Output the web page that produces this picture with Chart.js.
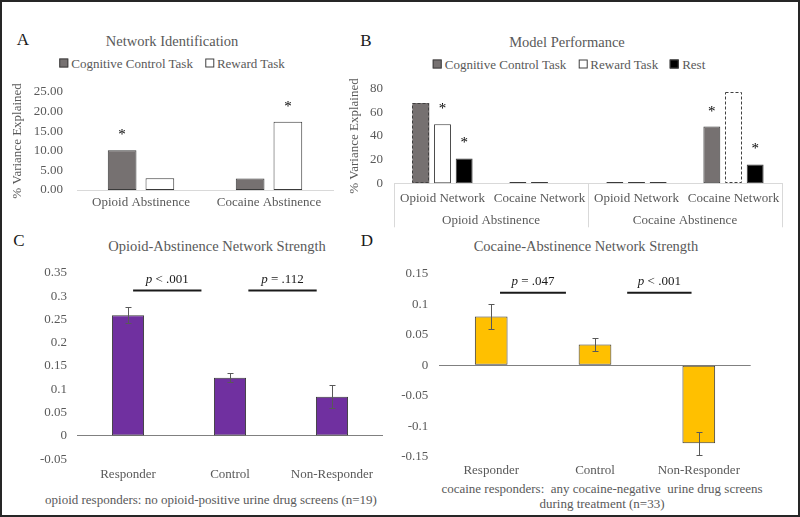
<!DOCTYPE html>
<html>
<head>
<meta charset="utf-8">
<script src="https://cdn.jsdelivr.net/npm/chart.js@4.4.1/dist/chart.umd.min.js"></script>
<style>
  body { margin: 0; background: #fff; }
  #page { position: relative; width: 800px; height: 517px; overflow: hidden;
          font-family: 'Liberation Serif', 'Times New Roman', serif; color: #595959; }
  #frame { position: absolute; left: 0; top: 0; width: 800px; height: 517px; box-sizing: border-box;
           border: 2px solid #262626; pointer-events: none; }
  canvas { position: absolute; }
  .txt { position: absolute; transform: translate(-50%, -50%); white-space: nowrap; line-height: 1; }
  .letter { font-size: 17px; color: #1a1a1a; }
  .title { font-size: 14.5px; color: #595959; }
  .legend { position: absolute; transform: translate(-50%, -50%); display: flex; gap: 12px;
            font-size: 13px; white-space: nowrap; line-height: 1; color: #595959; }
  .legend .box { display: inline-block; width: 7px; height: 7px; border: 1px solid #404040;
                 margin-right: 3px; }
  .note { font-size: 13px; text-align: center; line-height: 15px; white-space: pre; }
</style>
</head>
<body>
<div id="page">
  <div class="txt letter" style="left:23px; top:39px;">A</div>
  <div class="txt letter" style="left:366px; top:40px;">B</div>
  <div class="txt letter" style="left:19px; top:240px;">C</div>
  <div class="txt letter" style="left:367px; top:240px;">D</div>

  <div class="txt title" style="left:172px; top:41px;">Network Identification</div>
  <div class="txt title" style="left:567px; top:42px;">Model Performance</div>
  <div class="txt title" style="left:217px; top:246px;">Opioid-Abstinence Network Strength</div>
  <div class="txt title" style="left:586px; top:246px;">Cocaine-Abstinence Network Strength</div>

  <div class="legend" id="legendA" style="left:172px; top:63px;"></div>
  <div class="legend" id="legendB" style="left:569px; top:64px;"></div>

  <div class="txt note" style="left:211px; top:499px;">opioid responders: no opioid-positive urine drug screens (n=19)</div>
  <div class="txt note" style="left:602px; top:496px;">cocaine responders:  any cocaine-negative  urine drug screens
during treatment (n=33)</div>

  <div id="frame"></div>
</div>

<script>
// ---- data ----
const catA = ['Opioid Abstinence', 'Cocaine Abstinence'];
const seriesA = ['Cognitive Control Task', 'Reward Task'];
const cognitiveA = [10.15, 2.9];
const rewardA = [3.0, 17.35];
const ticksA = [0, 5, 10, 15, 20, 25];
const starsA = [[0, 0], [1, 1]];          // [dataset, index] of significant bars

const subCatB = ['Opioid Network', 'Cocaine Network', 'Opioid Network', 'Cocaine Network'];
const groupCatB = ['Opioid Abstinence', 'Cocaine Abstinence'];
const seriesB = ['Cognitive Control Task', 'Reward Task', 'Rest'];
const cognitiveB = [68, 1, 1, 48];
const rewardB = [50, 1, 1, 77];
const restB = [21, null, 1, 16];
const ticksB = [0, 20, 40, 60, 80];
const starsB = [[1, 0], [2, 0], [0, 3], [2, 3]];
const dashedB = [[0, 0], [1, 3]];         // bars drawn with a dashed outline

const groupsCD = ['Responder', 'Control', 'Non-Responder'];
const strengthC = [0.259, 0.125, 0.084];
const errC = [0.017, 0.01, 0.025];
const ticksC = [-0.05, 0, 0.05, 0.1, 0.15, 0.2, 0.25, 0.3, 0.35];
const pValuesC = ['< .001', '= .112'];

const strengthD = [0.080, 0.034, -0.128];
const errD = [0.021, 0.011, 0.019];
const ticksD = [-0.15, -0.1, -0.05, 0, 0.05, 0.1, 0.15];
const pValuesD = ['= .047', '< .001'];

const FONT = "'Liberation Serif', 'Times New Roman', serif";
Chart.defaults.font.family = FONT;
Chart.defaults.font.size = 13;
Chart.defaults.color = '#595959';

const GRAY = '#767171';
const EDGE = '#3a3a3a';

// stars, error bars, dashed outlines, p-value brackets, category separators
const extras = {
  id: 'extras',
  afterDatasetsDraw(chart, args, opts) {
    const ctx = chart.ctx;
    const x = chart.scales.x, y = chart.scales.y;
    ctx.save();

    (opts.dashed || []).forEach(([d, i]) => {
      const p = chart.getDatasetMeta(d).data[i].getProps(['x', 'y', 'base', 'width'], true);
      ctx.setLineDash([3, 2]);
      ctx.strokeStyle = '#404040';
      ctx.lineWidth = 1;
      ctx.strokeRect(Math.round(p.x - p.width / 2) + 0.5, Math.round(p.y) + 0.5,
                     Math.round(p.width) - 1, Math.round(p.base - p.y) - 1);
    });
    ctx.setLineDash([]);

    if (opts.errors) {
      const vals = chart.data.datasets[0].data;
      const meta = chart.getDatasetMeta(0);
      ctx.strokeStyle = '#595959';
      ctx.lineWidth = 1;
      opts.errors.forEach((e, i) => {
        const cx = Math.round(meta.data[i].x) + 0.5;
        const top = Math.round(y.getPixelForValue(vals[i] + e)) + 0.5;
        const bot = Math.round(y.getPixelForValue(vals[i] - e)) + 0.5;
        ctx.beginPath();
        ctx.moveTo(cx, top); ctx.lineTo(cx, bot);
        ctx.moveTo(cx - 3, top); ctx.lineTo(cx + 3, top);
        ctx.moveTo(cx - 3, bot); ctx.lineTo(cx + 3, bot);
        ctx.stroke();
      });
    }

    ctx.fillStyle = '#000';
    ctx.font = '15px ' + FONT;
    ctx.textAlign = 'center';
    ctx.textBaseline = 'alphabetic';
    (opts.stars || []).forEach(([d, i]) => {
      const bar = chart.getDatasetMeta(d).data[i];
      ctx.fillText('*', bar.x, bar.y - 11);
    });

    (opts.brackets || []).forEach(b => {
      const x1 = x.getPixelForValue(b.from), x2 = x.getPixelForValue(b.to);
      const ly = y.getPixelForValue(b.at);
      ctx.strokeStyle = '#1a1a1a';
      ctx.lineWidth = 2;
      ctx.beginPath();
      ctx.moveTo(x1, ly); ctx.lineTo(x2, ly);
      ctx.stroke();
      ctx.textBaseline = 'middle';
      ctx.textAlign = 'left';
      ctx.fillStyle = '#1a1a1a';
      ctx.font = 'italic 13px ' + FONT;
      const w1 = ctx.measureText('p').width;
      ctx.font = '13px ' + FONT;
      const rest = ' ' + b.text;
      const w2 = ctx.measureText(rest).width;
      const sx = (x1 + x2) / 2 - (w1 + w2) / 2;
      ctx.font = 'italic 13px ' + FONT;
      ctx.fillText('p', sx, ly - 11);
      ctx.font = '13px ' + FONT;
      ctx.fillText(rest, sx + w1, ly - 11);
    });

    if (opts.separators) {
      const per = subCatB.length / groupCatB.length;
      const a = chart.chartArea;
      ctx.strokeStyle = '#d9d9d9';
      ctx.lineWidth = 1;
      for (let g = 0; g <= groupCatB.length; g++) {
        const px = Math.round(x.getPixelForValue(g * per - 0.5)) + 0.5;
        ctx.beginPath();
        ctx.moveTo(px, a.bottom); ctx.lineTo(px, a.bottom + 44);
        ctx.stroke();
      }
    }
    ctx.restore();
  }
};

const page = document.getElementById('page');

function makeChart(box, area, config, xHeights) {
  const canvas = document.createElement('canvas');
  canvas.width = box.w;
  canvas.height = box.h;
  canvas.style.left = box.x + 'px';
  canvas.style.top = box.y + 'px';
  page.insertBefore(canvas, document.getElementById('frame'));
  const o = config.options;
  o.responsive = false;
  o.animation = false;
  o.layout = { padding: { left: 0, top: area.t - box.y, right: box.x + box.w - area.r, bottom: 0 } };
  o.scales.y.afterFit = s => { s.width = area.l - box.x; };
  const heights = xHeights || { x: box.y + box.h - area.b };
  Object.keys(heights).forEach(k => { o.scales[k].afterFit = s => { s.height = heights[k]; }; });
  o.plugins = Object.assign({ legend: { display: false }, tooltip: { enabled: false } }, o.plugins);
  config.plugins = [extras];
  return new Chart(canvas, config);
}

function fillLegend(id, chart) {
  const el = document.getElementById(id);
  chart.data.datasets.forEach(ds => {
    const item = document.createElement('span');
    const box = document.createElement('span');
    box.className = 'box';
    box.style.background = ds.backgroundColor;
    item.appendChild(box);
    item.appendChild(document.createTextNode(ds.label));
    el.appendChild(item);
  });
}

const flatTicks = { autoSkip: false, minRotation: 0, maxRotation: 0 };

// ---- A: Network Identification ----
const chartA = makeChart({ x: 0, y: 70, w: 390, h: 150 }, { l: 77, t: 83.3, r: 333, b: 190 }, {
  type: 'bar',
  data: {
    labels: catA,
    datasets: [
      { label: seriesA[0], data: cognitiveA, backgroundColor: GRAY },
      { label: seriesA[1], data: rewardA, backgroundColor: '#ffffff' }
    ].map(d => Object.assign(d, { borderColor: EDGE, borderWidth: 1, borderSkipped: false,
                                  categoryPercentage: 0.59, barPercentage: 0.76 }))
  },
  options: {
    scales: {
      x: { grid: { display: false, drawTicks: false }, border: { color: '#d9d9d9' },
           ticks: Object.assign({ padding: 5 }, flatTicks) },
      y: { min: 0, max: 25, grid: { display: false, drawTicks: false }, border: { display: false },
           afterBuildTicks: s => { s.ticks = ticksA.map(v => ({ value: v })); },
           ticks: { padding: 14, callback: v => v.toFixed(2) },
           title: { display: true, text: '% Variance Explained', padding: { top: 10, bottom: 0 } } }
    },
    plugins: { extras: { stars: starsA } }
  }
});
fillLegend('legendA', chartA);

// ---- B: Model Performance ----
const isDashed = c => dashedB.some(([d, i]) => d === c.datasetIndex && i === c.dataIndex);
const chartB = makeChart({ x: 335, y: 70, w: 460, h: 170 }, { l: 394, t: 85, r: 782, b: 183.3 }, {
  type: 'bar',
  data: {
    labels: subCatB,
    datasets: [
      { label: seriesB[0], data: cognitiveB, backgroundColor: GRAY },
      { label: seriesB[1], data: rewardB, backgroundColor: '#ffffff' },
      { label: seriesB[2], data: restB, backgroundColor: '#000000' }
    ].map(d => Object.assign(d, { borderColor: EDGE, borderSkipped: false,
                                  borderWidth: c => (isDashed(c) ? 0 : 1),
                                  categoryPercentage: 0.67, barPercentage: 0.78 }))
  },
  options: {
    scales: {
      x: { weight: 0, grid: { display: false, drawTicks: false }, border: { color: '#d9d9d9' },
           ticks: Object.assign({ padding: 7.9 }, flatTicks) },
      x2: { type: 'category', position: 'bottom', weight: 1, labels: groupCatB,
            grid: { display: false, drawTicks: false }, border: { display: false },
            ticks: Object.assign({ padding: 7.6 }, flatTicks) },
      y: { min: 0, max: 80, grid: { display: false, drawTicks: false }, border: { display: false },
           afterBuildTicks: s => { s.ticks = ticksB.map(v => ({ value: v })); },
           ticks: { padding: 11 },
           title: { display: true, text: '% Variance Explained', padding: { top: 12, bottom: 0 } } }
    },
    plugins: { extras: { stars: starsB, dashed: dashedB, separators: true } }
  }
}, { x: 22, x2: 240 - 183.3 - 22 });
fillLegend('legendB', chartB);

// ---- C and D: network strength ----
function strengthChart(box, area, values, errs, ticks, color, pTexts, brackets, xPad, yPad) {
  return makeChart(box, area, {
    type: 'bar',
    data: {
      labels: groupsCD,
      datasets: [{ data: values, backgroundColor: color, borderColor: EDGE, borderWidth: 1,
                   borderSkipped: false, categoryPercentage: 1, barPercentage: 0.315 }]
    },
    options: {
      scales: {
        x: { grid: { display: false, drawTicks: false }, border: { display: false },
             ticks: Object.assign({ padding: xPad }, flatTicks) },
        y: { min: ticks[0], max: ticks[ticks.length - 1], border: { display: false },
             grid: { drawTicks: false, lineWidth: 1,
                     color: c => (c.tick && c.tick.value === 0 ? '#808080' : 'rgba(0,0,0,0)') },
             afterBuildTicks: s => { s.ticks = ticks.map(v => ({ value: v })); },
             ticks: { padding: yPad, callback: v => String(v) } }
      },
      plugins: { extras: { errors: errs,
                           brackets: brackets.map((b, i) => Object.assign({ text: pTexts[i] }, b)) } }
    }
  });
}

strengthChart({ x: 0, y: 255, w: 390, h: 235 }, { l: 77, t: 271, r: 383, b: 459.2 },
  strengthC, errC, ticksC, '#7030a0', pValuesC,
  [{ from: 0.05, to: 0.72, at: 0.312 }, { from: 1.18, to: 1.85, at: 0.312 }], 7.3, 10);

strengthChart({ x: 390, y: 255, w: 405, h: 235 }, { l: 439.3, t: 270, r: 750.7, b: 456.7 },
  strengthD, errD, ticksD, '#ffc000', pValuesD,
  [{ from: 0.085, to: 0.72, at: 0.119 }, { from: 1.31, to: 1.93, at: 0.119 }], 6.5, 11);
</script>
</body>
</html>
